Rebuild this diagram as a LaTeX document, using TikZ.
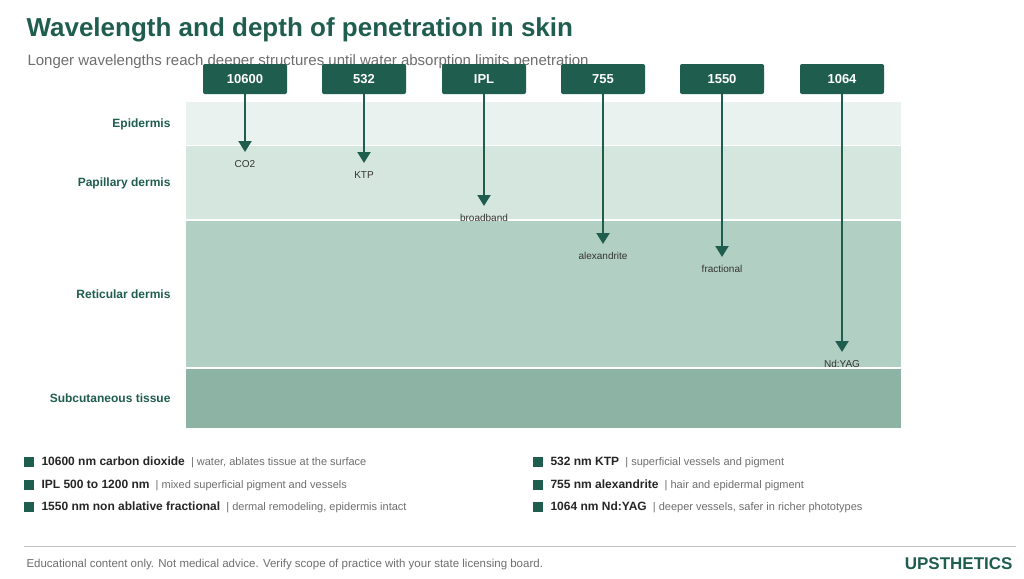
\documentclass[tikz,border=0pt]{standalone}
\usepackage{fontspec}
\setmainfont{Liberation Sans}
\usetikzlibrary{arrows.meta}
\definecolor{dg}{HTML}{1F5E4E}
\definecolor{l1}{HTML}{EAF2EF}
\definecolor{l2}{HTML}{D5E6DF}
\definecolor{l3}{HTML}{B2CFC4}
\definecolor{l4}{HTML}{8DB3A4}
\definecolor{gt}{HTML}{6E6E6E}
\begin{document}
\begin{tikzpicture}[x=1pt,y=-1pt,
 box/.style={fill=dg,rounded corners=2pt,minimum width=84pt,minimum height=30pt,text=white,font=\bfseries\fontsize{13}{13}\selectfont,inner sep=0pt},
 lay/.style={anchor=east,text=dg,font=\bfseries\fontsize{12}{12}\selectfont},
 arr/.style={dg,line width=2.2pt,-{Triangle[width=13pt,length=11pt]}},
 lab/.style={font=\fontsize{10}{10}\selectfont,text=black!80},
 leg/.style={anchor=west,font=\fontsize{11}{11}\selectfont,text=gt}]
\useasboundingbox (0,0) rectangle (1024,578);
\fill[white] (0,0) rectangle (1024,578);
\node[anchor=west,text=dg,font=\bfseries\fontsize{26}{26}\selectfont] (t) at (23,30) {Wavelength and depth of penetration in skin};
\node[anchor=west,text=gt,font=\fontsize{15}{15}\selectfont] (st) at (24,62) {Longer wavelengths reach deeper structures until water absorption limits penetration};
\fill[l1] (186,102) rectangle (901,145);
\fill[l2] (186,146) rectangle (901,219);
\fill[l3] (186,221) rectangle (901,367);
\fill[l4] (186,369) rectangle (901,428);
\node[lay] (e) at (174,124) {Epidermis};
\node[lay] (p) at (174,183) {Papillary dermis};
\node[lay] (r) at (174,294) {Reticular dermis};
\node[lay] (s) at (174,398) {Subcutaneous tissue};
\foreach \n/\x/\t/\yy/\l in {a/245/10600/152/CO2, b/364/532/163/KTP, c/484/IPL/206/broadband, d/603/755/244/alexandrite, e2/722/1550/257/fractional, f/842/1064/352/Nd:YAG}{
 \node[box] (\n) at (\x,79) {\t};
 \coordinate (\n e) at (\x,\yy);
 \draw[arr] (\n.south) -- (\n e);
 \node[lab,anchor=north] (\n l) at (\x,\yy+5) {\l};
}
\foreach \x/\y/\a/\b in {29/462/{10600 nm carbon dioxide}/{water, ablates tissue at the surface},
 29/485/{IPL 500 to 1200 nm}/{mixed superficial pigment and vessels},
 29/507/{1550 nm non ablative fractional}/{dermal remodeling, epidermis intact},
 538/462/{532 nm KTP}/{superficial vessels and pigment},
 538/485/{755 nm alexandrite}/{hair and epidermal pigment},
 538/507/{1064 nm Nd:YAG}/{deeper vessels, safer in richer phototypes}}{
 \fill[dg] (\x-5,\y-5) rectangle (\x+5,\y+5);
 \node[leg] at (\x+9,\y) {{\color{black!85}\bfseries\fontsize{12}{12}\selectfont \a}\ \ | \b};
}
\draw[black!25,line width=0.8pt] (24,546) -- (1016,546);
\node[anchor=west,text=gt,font=\fontsize{11.5}{11.5}\selectfont] (ft) at (23,565) {Educational content only. Not medical advice. Verify scope of practice with your state licensing board.};
\node[anchor=east,text=dg,font=\bfseries\fontsize{17}{17}\selectfont] (br) at (1016,564) {UPSTHETICS};
\end{tikzpicture}
\end{document}
